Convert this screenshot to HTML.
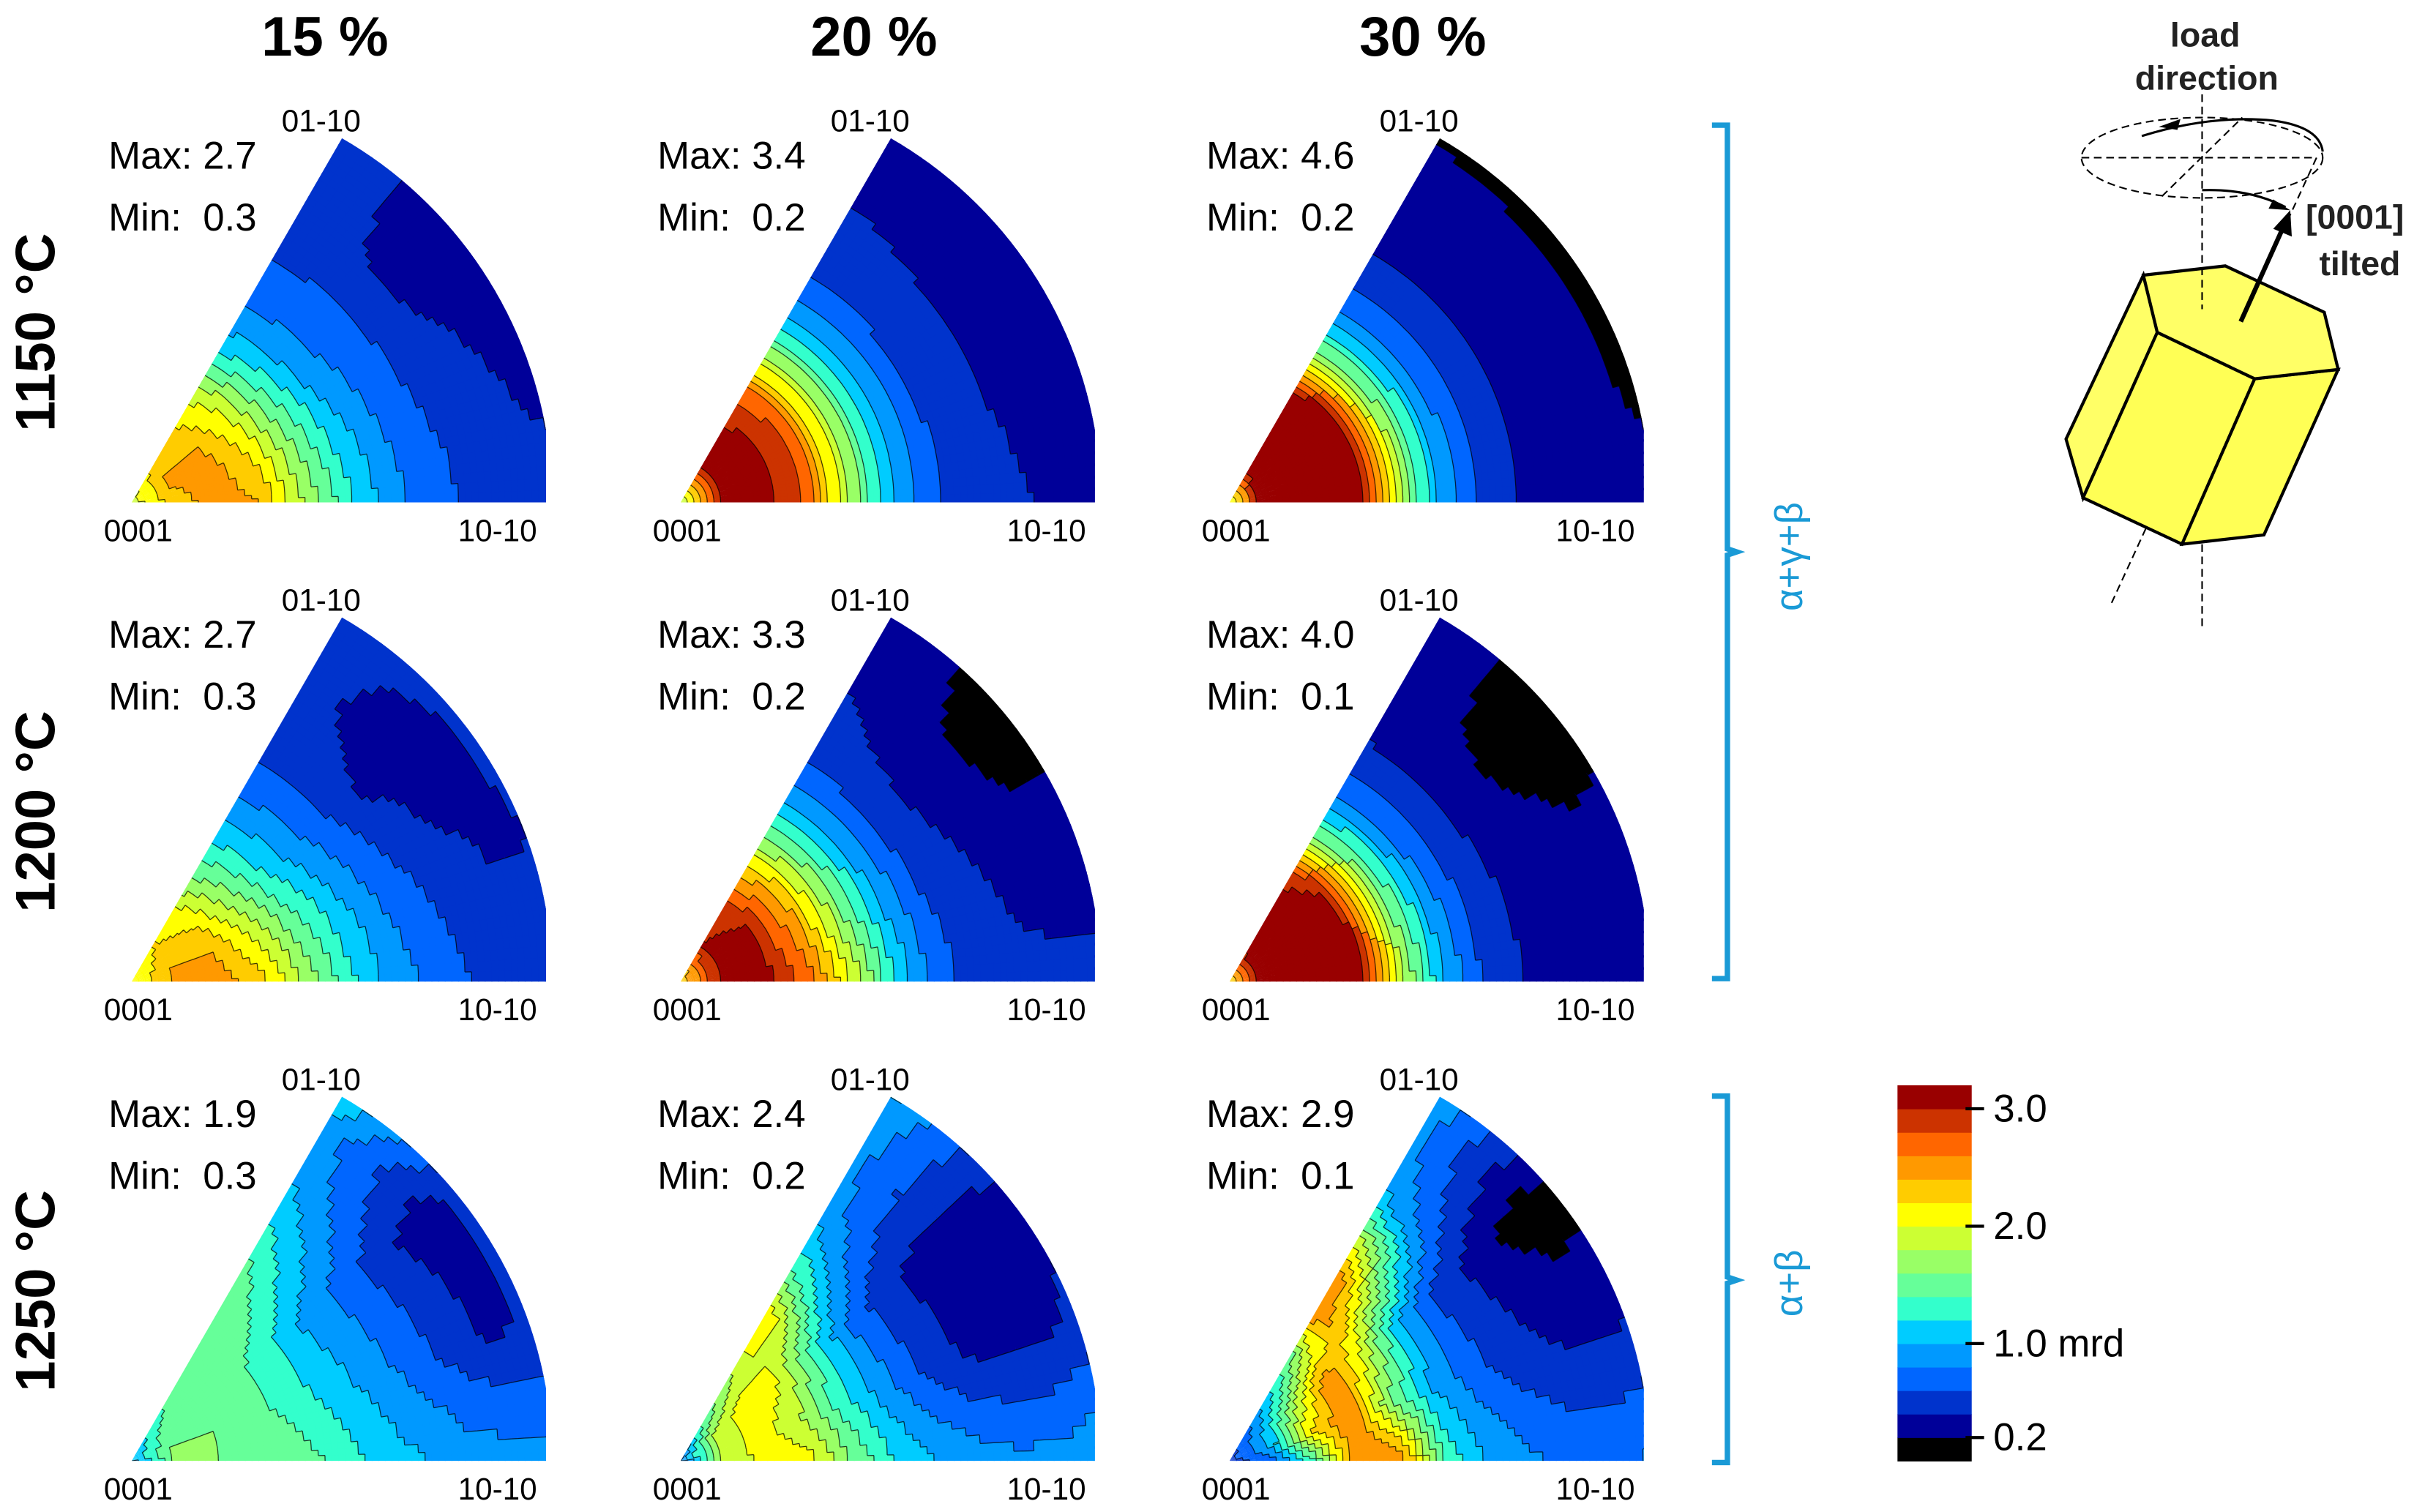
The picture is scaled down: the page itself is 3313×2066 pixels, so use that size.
<!DOCTYPE html>
<html><head><meta charset="utf-8"><style>
html,body{margin:0;padding:0;background:#fff;}
svg{display:block;}
text{font-family:"Liberation Sans",sans-serif;}
</style></head><body>
<svg id="fig" xmlns="http://www.w3.org/2000/svg" width="3313" height="2066" viewBox="0 0 1568 978">
<rect x="0" y="0" width="1568" height="978" fill="#fff"/>
<g id="panels"></g>
<g id="labels"></g>
<g id="colorbar"></g>
<g fill="none" stroke="#1a9ad6" stroke-width="3.5">
  <path d="M1107,81 L1117,81 L1117,355 L1123,357 L1117,359 L1117,633 L1107,633"/>
  <path d="M1107,709 L1117,709 L1117,826 L1123,828 L1117,830 L1117,946 L1107,946"/>
</g>
<text x="1157" y="360" fill="#1a9ad6" font-size="25" text-anchor="middle" dominant-baseline="central" transform="rotate(-90 1157 360)">α+γ+β</text>
<text x="1157" y="830" fill="#1a9ad6" font-size="25" text-anchor="middle" dominant-baseline="central" transform="rotate(-90 1157 830)">α+β</text>
<g>
  <path d="M1498,102 L1365,391" stroke="#000" stroke-width="1" stroke-dasharray="5,3" fill="none"/>
  <polygon points="1386,178 1395,215 1347,322 1336,284" fill="#ffff66" stroke="#000" stroke-width="2"/>
  <polygon points="1395,215 1458,245 1411,352 1347,322" fill="#ffff55" stroke="#000" stroke-width="2"/>
  <polygon points="1458,245 1512,239 1464,346 1411,352" fill="#ffff55" stroke="#000" stroke-width="2"/>
  <polygon points="1386,178 1439,172 1503,202 1512,239 1458,245 1395,215" fill="#ffff66" stroke="#000" stroke-width="2"/>
  <line x1="1424" y1="53" x2="1424" y2="200" stroke="#000" stroke-width="1" stroke-dasharray="5,3"/>
  <line x1="1424" y1="352" x2="1424" y2="406" stroke="#000" stroke-width="1" stroke-dasharray="5,3"/>
  <ellipse cx="1424" cy="102" rx="78" ry="26" fill="none" stroke="#000" stroke-width="1" stroke-dasharray="5,3"/>
  <path d="M1385,88 Q1430,74 1470,78 Q1500,82 1502,98" fill="none" stroke="#000" stroke-width="1.5"/>
  <polygon points="1396,82 1410,77 1408,84" fill="#000"/>
  <line x1="1346" y1="102" x2="1498" y2="102" stroke="#000" stroke-width="1" stroke-dasharray="5,3"/>
  <line x1="1398" y1="127" x2="1450" y2="76" stroke="#000" stroke-width="1" stroke-dasharray="5,3"/>
  <path d="M1424,123 Q1455,122 1478,134" fill="none" stroke="#000" stroke-width="1.5"/>
  <polygon points="1481,136 1467,135 1470,129" fill="#000"/>
  <line x1="1449" y1="208" x2="1476" y2="148" stroke="#000" stroke-width="3"/>
  <polygon points="1481,136 1482,153 1470,148" fill="#000"/>
  <text x="1426" y="30" font-size="22" font-weight="bold" fill="#222" text-anchor="middle">load</text>
  <text x="1427" y="58" font-size="22" font-weight="bold" fill="#222" text-anchor="middle">direction</text>
  <text x="1491" y="148" font-size="22" font-weight="bold" fill="#222">[0001]</text>
  <text x="1526" y="178" font-size="22" font-weight="bold" fill="#222" text-anchor="middle">tilted</text>
</g>
<script>
// ---- data ----
const strains = ["15 %", "20 %", "30 %"];
const temps = ["1150 °C", "1200 °C", "1250 °C"];
const maxVals = [2.7, 3.4, 4.6, 2.7, 3.3, 4.0, 1.9, 2.4, 2.9];
const minVals = [0.3, 0.2, 0.2, 0.3, 0.2, 0.1, 0.3, 0.2, 0.1];
// density (mrd) profiles along r = 0..1 (11 samples) at angles 0, 20, 40, 60 deg from the 0001–10-10 edge
const profiles0 = [
 [1.9,2.3,2.5,2.4,1.8,1.3,0.9,0.7,0.55,0.5,0.5],
 [1.9,3.1,3.1,2.7,1.7,1.0,0.62,0.5,0.42,0.35,0.3],
 [2.0,3.5,3.5,3.3,1.8,0.9,0.5,0.35,0.3,0.3,0.3],
 [2.0,2.4,2.5,2.3,1.8,1.3,0.95,0.75,0.6,0.55,0.5],
 [2.2,3.1,3.1,2.7,2.0,1.2,0.7,0.5,0.45,0.45,0.45],
 [2.2,3.5,3.5,3.2,1.9,1.0,0.55,0.38,0.35,0.35,0.38],
 [0.9,1.6,1.6,1.6,1.5,1.3,1.1,1.0,0.9,0.9,0.85],
 [0.7,1.8,2.1,2.1,1.6,1.2,1.0,0.9,0.85,0.9,1.0],
 [0.5,0.7,1.4,2.6,2.6,1.4,1.0,0.85,0.75,0.75,0.85]];
const profiles20 = [
 [1.9,2.4,2.5,2.2,1.6,1.1,0.8,0.6,0.5,0.4,0.3],
 [1.9,3.1,3.1,2.7,1.7,1.0,0.6,0.45,0.35,0.3,0.3],
 [2.0,3.5,3.5,3.3,1.8,0.9,0.5,0.35,0.3,0.25,0.1],
 [2.0,2.4,2.4,2.0,1.5,1.1,0.8,0.6,0.45,0.38,0.4],
 [2.2,3.1,3.0,2.5,1.7,1.0,0.6,0.45,0.35,0.3,0.3],
 [2.2,3.5,3.5,3.1,1.7,0.9,0.5,0.35,0.3,0.25,0.3],
 [1.0,1.6,1.6,1.5,1.3,1.1,0.9,0.7,0.5,0.35,0.45],
 [0.8,1.9,2.1,1.8,1.3,0.9,0.6,0.4,0.35,0.35,0.45],
 [0.5,1.0,2.2,2.6,1.6,1.0,0.7,0.5,0.4,0.35,0.4]];
const profiles40 = [
 [1.9,2.4,2.4,2.0,1.4,0.9,0.7,0.55,0.35,0.3,0.3],
 [1.9,3.1,3.1,2.7,1.7,1.0,0.6,0.45,0.35,0.3,0.3],
 [2.0,3.5,3.5,3.2,1.7,0.85,0.5,0.35,0.3,0.25,0.1],
 [2.0,2.3,2.2,1.7,1.2,0.85,0.6,0.38,0.3,0.35,0.45],
 [2.2,3.1,3.0,2.4,1.6,0.9,0.5,0.35,0.25,0.1,0.1],
 [2.2,3.5,3.4,3.0,1.6,0.8,0.45,0.3,0.15,0.1,0.1],
 [1.0,1.5,1.6,1.5,1.3,1.0,0.8,0.6,0.4,0.3,0.5],
 [0.8,1.8,2.2,2.0,1.3,0.8,0.5,0.35,0.3,0.3,0.35],
 [0.5,1.0,1.8,2.6,2.0,1.1,0.6,0.4,0.2,0.1,0.1]];
const profiles60 = [
 [1.9,2.3,2.2,1.9,1.2,0.85,0.68,0.55,0.5,0.5,0.5],
 [1.9,3.0,3.0,2.7,1.7,1.0,0.62,0.5,0.4,0.35,0.3],
 [2.0,3.2,3.3,3.0,1.7,0.85,0.5,0.35,0.3,0.3,0.15],
 [2.0,2.2,2.0,1.5,1.1,0.8,0.6,0.5,0.45,0.45,0.45],
 [2.2,3.0,2.9,2.3,1.5,0.9,0.6,0.45,0.4,0.38,0.35],
 [2.2,3.3,3.2,2.8,1.5,0.8,0.45,0.35,0.3,0.3,0.3],
 [1.0,1.3,1.5,1.6,1.6,1.5,1.3,1.1,0.95,0.9,1.2],
 [0.7,1.4,1.7,2.0,2.2,1.5,1.1,0.9,0.85,0.9,1.05],
 [0.5,0.8,1.2,1.6,2.6,2.6,1.9,1.1,0.9,0.85,1.0]];
const bandColors = ["#000000","#000099","#0033cc","#0066ff","#0099ff","#00ccff","#33ffcc","#66ff99","#99ff66","#ccff33","#ffff00","#ffcc00","#ff9900","#ff6600","#cc3300","#990000"];
const cbTicks = [3.0, 2.0, 1.0, 0.2];
const cbTickLabels = ["3.0", "2.0", "1.0 mrd", "0.2"];

// ---- layout ----
const NS = "http://www.w3.org/2000/svg";
const R = 272, XCUT = 268;
const colX = [85, 440, 795], rowY = [325, 635, 945];
function band(v){ if (v < 0.2) return 0; return Math.min(15, Math.floor((v - 0.2) / 0.2) + 1); }
function prof(arr, r){ const f = r * 10, i = Math.min(9, Math.floor(f)), t = f - i; return arr[i] * (1 - t) + arr[i + 1] * t; }
function val(p, r, t){ // t: 0..1 angle fraction (0 -> 0deg, 1 -> 60deg)
  const ps = [profiles0[p], profiles20[p], profiles40[p], profiles60[p]].map(a => prof(a, r));
  const f = t * 3, i = Math.min(2, Math.floor(f)), u = f - i;
  return ps[i] * (1 - u) + ps[i + 1] * u;
}
const panels = document.getElementById('panels');
const defs = document.createElementNS(NS, 'defs');
panels.appendChild(defs);
const NR = 64, NA = 36;
for (let p = 0; p < 9; p++) {
  const cx = colX[p % 3], cy = rowY[Math.floor(p / 3)];
  const yc = Math.sqrt(R * R - XCUT * XCUT);
  const tx = R * Math.cos(Math.PI / 3), ty = R * Math.sin(Math.PI / 3);
  const cp = document.createElementNS(NS, 'clipPath');
  cp.setAttribute('id', 'clip' + p);
  const cpp = document.createElementNS(NS, 'path');
  cpp.setAttribute('d', `M${cx},${cy} L${cx + XCUT},${cy} L${cx + XCUT},${cy - yc} A${R},${R} 0 0 0 ${cx + tx},${cy - ty} Z`);
  cp.appendChild(cpp); defs.appendChild(cp);
  const g = document.createElementNS(NS, 'g');
  
  
  g.setAttribute('clip-path', `url(#clip${p})`);
  panels.appendChild(g);
  const grid = [];
  for (let i = 0; i < NR; i++) { grid.push([]); for (let j = 0; j < NA; j++) grid[i].push(band(val(p, (i + 0.5) / NR, (j + 0.5) / NA))); }
  const pt = (rr, a) => [cx + rr * Math.cos(a), cy - rr * Math.sin(a)];
  let lines = "";
  for (let i = 0; i < NR; i++) for (let j = 0; j < NA; j++) {
    const r0 = i / NR * (R + 4), r1 = (i + 1) / NR * (R + 4) + 0.6;
    const a0 = j / NA * Math.PI / 3 - (j === 0 ? 0.05 : 0), a1 = (j + 1) / NA * Math.PI / 3 + 0.006 + (j === NA - 1 ? 0.05 : 0);
    const q = [pt(r0, a0), pt(r1, a0), pt(r1, a1), pt(r0, a1)];
    const c = document.createElementNS(NS, 'path');
    c.setAttribute('d', 'M' + q.map(v => v[0].toFixed(1) + ',' + v[1].toFixed(1)).join('L') + 'Z');
    c.setAttribute('fill', bandColors[grid[i][j]]);
    
    
    g.appendChild(c);
    const re = (i + 1) / NR * (R + 4), ae = (j + 1) / NA * Math.PI / 3;
    if (i < NR - 1 && grid[i + 1][j] !== grid[i][j]) { const A = pt(re, j / NA * Math.PI / 3), B = pt(re, ae); lines += `M${A[0].toFixed(1)},${A[1].toFixed(1)}L${B[0].toFixed(1)},${B[1].toFixed(1)}`; }
    if (j < NA - 1 && grid[i][j + 1] !== grid[i][j]) { const A = pt(r0, ae), B = pt((i + 1) / NR * (R + 4), ae); lines += `M${A[0].toFixed(1)},${A[1].toFixed(1)}L${B[0].toFixed(1)},${B[1].toFixed(1)}`; }
  }
  const ln = document.createElementNS(NS, 'path');
  ln.setAttribute('d', lines);
  ln.setAttribute('stroke', '#000'); ln.setAttribute('stroke-width', '0.6'); ln.setAttribute('fill', 'none'); ln.setAttribute('stroke-opacity', '0.75');
  
  
  g.appendChild(ln);
}
// labels
const labels = document.getElementById('labels');
function txt(x, y, s, attrs, name){
  const t = document.createElementNS(NS, 'text');
  t.setAttribute('x', x); t.setAttribute('y', y); t.textContent = s;
  for (const k in attrs) t.setAttribute(k, attrs[k]);
  
  
  labels.appendChild(t); return t;
}
strains.forEach((s, i) => txt(210 + i * 355, 36, s, {'font-size': 36, 'font-weight': 'bold', 'text-anchor': 'middle'}, 'column-title'));
temps.forEach((s, i) => { const y = 215 + i * 310; txt(23, y, s, {'font-size': 36, 'font-weight': 'bold', 'text-anchor': 'middle', 'dominant-baseline': 'central', 'transform': `rotate(-90 23 ${y})`}, 'row-title'); });
for (let p = 0; p < 9; p++) {
  const dx = (p % 3) * 355, dy = Math.floor(p / 3) * 310;
  txt(70 + dx, 109 + dy, 'Max: ' + maxVals[p].toFixed(1), {'font-size': 25}, 'max-label');
  txt(70 + dx, 149 + dy, 'Min:\u00a0 ' + minVals[p].toFixed(1), {'font-size': 25}, 'min-label');
  txt(182 + dx, 85 + dy, '01-10', {'font-size': 20}, 'pole-label-01-10');
  txt(67 + dx, 350 + dy, '0001', {'font-size': 20}, 'pole-label-0001');
  txt(296 + dx, 350 + dy, '10-10', {'font-size': 20}, 'pole-label-10-10');
}
// colorbar
const cb = document.getElementById('colorbar');
const cbTop = 702, cbBot = 945, cbX = 1227, cbW = 48;
const bh = (cbBot - cbTop) / bandColors.length;
const cbY = v => cbBot - bh * (v < 0.2 ? 0 : (v - 0.2) / 0.2 + 1);
bandColors.forEach((c, k) => {
  const r = document.createElementNS(NS, 'rect');
  r.setAttribute('x', cbX); r.setAttribute('y', (cbBot - (k + 1) * bh).toFixed(2));
  r.setAttribute('width', cbW); r.setAttribute('height', (bh + 0.3).toFixed(2)); r.setAttribute('fill', c);
  
  
  cb.appendChild(r);
});
cbTicks.forEach((v, i) => {
  const y = cbY(v);
  const l = document.createElementNS(NS, 'line');
  l.setAttribute('x1', cbX + cbW - 4); l.setAttribute('x2', cbX + cbW + 8); l.setAttribute('y1', y); l.setAttribute('y2', y);
  l.setAttribute('stroke', '#000'); l.setAttribute('stroke-width', 2);
  
  
  cb.appendChild(l);
  const t = document.createElementNS(NS, 'text');
  t.setAttribute('x', cbX + cbW + 14); t.setAttribute('y', y); t.setAttribute('font-size', 25);
  t.setAttribute('dominant-baseline', 'central'); t.textContent = cbTickLabels[i];
  
  
  cb.appendChild(t);
});
</script>
</svg>
</body></html>
